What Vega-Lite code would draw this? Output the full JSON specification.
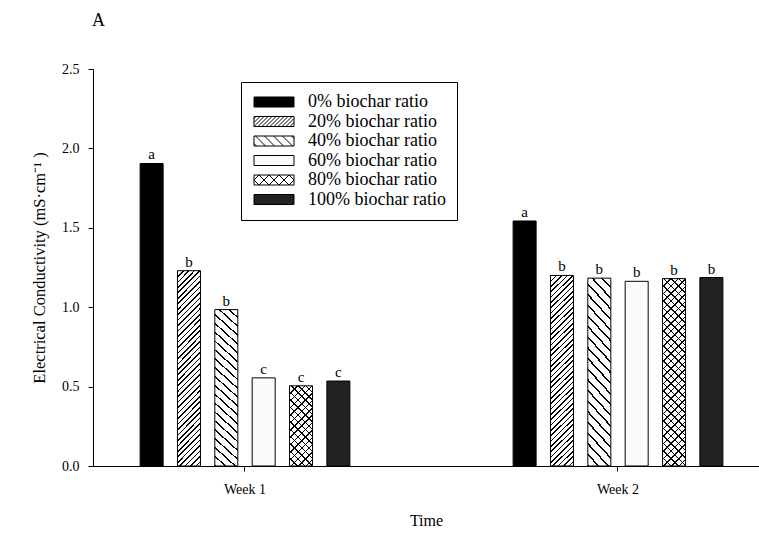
{
"$schema": "https://vega.github.io/schema/vega-lite/v6.json",
"width": 666, "height": 397,
"autosize": {"type": "none"},
"padding": {"left": 93, "top": 69, "right": 0, "bottom": 68},
"background": "white",
"title": {"text": "A", "anchor": "start", "frame": "group", "fontSize": 18, "fontWeight": "normal", "font": "Liberation Serif", "color": "#000", "offset": 32, "dx": -1},
"data": {"values": [
{"Time":"Week 1","ratio":"0% biochar ratio","EC":1.905,"letter":"a"},
{"Time":"Week 1","ratio":"20% biochar ratio","EC":1.23,"letter":"b"},
{"Time":"Week 1","ratio":"40% biochar ratio","EC":0.985,"letter":"b"},
{"Time":"Week 1","ratio":"60% biochar ratio","EC":0.555,"letter":"c"},
{"Time":"Week 1","ratio":"80% biochar ratio","EC":0.505,"letter":"c"},
{"Time":"Week 1","ratio":"100% biochar ratio","EC":0.535,"letter":"c"},
{"Time":"Week 2","ratio":"0% biochar ratio","EC":1.543,"letter":"a"},
{"Time":"Week 2","ratio":"20% biochar ratio","EC":1.2,"letter":"b"},
{"Time":"Week 2","ratio":"40% biochar ratio","EC":1.183,"letter":"b"},
{"Time":"Week 2","ratio":"60% biochar ratio","EC":1.163,"letter":"b"},
{"Time":"Week 2","ratio":"80% biochar ratio","EC":1.18,"letter":"b"},
{"Time":"Week 2","ratio":"100% biochar ratio","EC":1.187,"letter":"b"}
]},
"encoding": {
"x": {"field": "Time", "type": "nominal", "title": "Time",
 "scale": {"paddingInner": 0.25, "paddingOuter": 0.01776, "align": 0.915},
 "axis": {"labelAngle": 0, "tickSize": 5, "labelPadding": 11, "labelFontSize": 14, "titleFontSize": 16, "titlePadding": 16, "titleFontWeight": "normal", "grid": false, "domainColor": "#000", "tickColor": "#000", "labelColor": "#000", "titleColor": "#000"}},
"xOffset": {"field": "ratio", "type": "nominal",
 "scale": {"domain": ["0% biochar ratio","20% biochar ratio","40% biochar ratio","60% biochar ratio","80% biochar ratio","100% biochar ratio"], "paddingInner": 0.3842, "paddingOuter": 0.937}},
"y": {"field": "EC", "type": "quantitative", "title": "Electrical Conductivity (mS·cm⁻¹ )",
 "scale": {"domain": [0, 2.5], "nice": false},
 "axis": {"values": [0, 0.5, 1, 1.5, 2, 2.5], "format": ".1f", "grid": false, "tickSize": 5, "labelPadding": 9, "labelFontSize": 14, "titleFontSize": 16.5, "titlePadding": 14, "titleFontWeight": "normal", "domainColor": "#000", "tickColor": "#000", "labelColor": "#000", "titleColor": "#000"}}
},
"layer": [
{"mark": {"type": "bar", "stroke": "#000", "strokeWidth": 1},
 "encoding": {"fill": {"field": "ratio", "type": "nominal",
  "scale": {"domain": ["0% biochar ratio","20% biochar ratio","40% biochar ratio","60% biochar ratio","80% biochar ratio","100% biochar ratio"], "range": ["#000000","#ffffff","#ffffff","#fafafa","#ffffff","#222222"]},
  "legend": {"title": null, "orient": "none", "legendX": 148, "legendY": 13, "direction": "vertical", "strokeColor": "#000", "fillColor": "#fff", "padding": 11, "symbolType": "M-4,-1H4V1H-4Z", "symbolSize": 100, "symbolOffset": 13, "labelOffset": 25, "symbolStrokeColor": "#000", "symbolStrokeWidth": 1, "labelFont": "Liberation Serif", "labelFontSize": 18, "labelColor": "#000", "rowPadding": 1.5, "labelLimit": 300,
   "encode": {"symbols": {"update": {
    "shape": [
     {"test": "datum.value === '20% biochar ratio'", "value": "M-4,-1H4V1H-4Z M-4,-0.6L-3.6,-1 M-4,0.2L-2.8,-1 M-4,1L-2,-1 M-3.2,1L-1.2,-1 M-2.4,1L-0.4,-1 M-1.6,1L0.4,-1 M-0.8,1L1.2,-1 M0,1L2,-1 M0.8,1L2.8,-1 M1.6,1L3.6,-1 M2.4,1L4,-0.6 M3.2,1L4,0.2"},
     {"test": "datum.value === '40% biochar ratio'", "value": "M-4,-1H4V1H-4Z M-4,0.5L-3.5,1 M-3.7,-1L-1.7,1 M-1.9,-1L0.1,1 M-0.1,-1L1.9,1 M1.7,-1L3.7,1 M3.5,-1L4,-0.5"},
     {"test": "datum.value === '80% biochar ratio'", "value": "M-4,-1H4V1H-4Z M-4,0L-3,-1 M-3,1L-1,-1 M-1,1L1,-1 M1,1L3,-1 M3,1L4,0 M-4,0L-3,1 M-3,-1L-1,1 M-1,-1L1,1 M1,-1L3,1 M3,-1L4,0"},
     {"value": "M-4,-1H4V1H-4Z"}
    ],
    "stroke": {"value": "#000"},
    "strokeWidth": {"value": 1}
   }}}},
  "condition": [
   {"test": "datum.ratio === '20% biochar ratio'", "value": {"gradient":"linear","x1":0,"y1":0,"x2":0.1315,"y2":1.1035,"stops":[
{"offset":0,"color":"#000"},{"offset":0.0075,"color":"#000"},{"offset":0.0075,"color":"#fff"},{"offset":0.025,"color":"#fff"},
{"offset":0.025,"color":"#000"},{"offset":0.0325,"color":"#000"},{"offset":0.0325,"color":"#fff"},{"offset":0.05,"color":"#fff"},
{"offset":0.05,"color":"#000"},{"offset":0.0575,"color":"#000"},{"offset":0.0575,"color":"#fff"},{"offset":0.075,"color":"#fff"},
{"offset":0.075,"color":"#000"},{"offset":0.0825,"color":"#000"},{"offset":0.0825,"color":"#fff"},{"offset":0.1,"color":"#fff"},
{"offset":0.1,"color":"#000"},{"offset":0.1075,"color":"#000"},{"offset":0.1075,"color":"#fff"},{"offset":0.125,"color":"#fff"},
{"offset":0.125,"color":"#000"},{"offset":0.1325,"color":"#000"},{"offset":0.1325,"color":"#fff"},{"offset":0.15,"color":"#fff"},
{"offset":0.15,"color":"#000"},{"offset":0.1575,"color":"#000"},{"offset":0.1575,"color":"#fff"},{"offset":0.175,"color":"#fff"},
{"offset":0.175,"color":"#000"},{"offset":0.1825,"color":"#000"},{"offset":0.1825,"color":"#fff"},{"offset":0.2,"color":"#fff"},
{"offset":0.2,"color":"#000"},{"offset":0.2075,"color":"#000"},{"offset":0.2075,"color":"#fff"},{"offset":0.225,"color":"#fff"},
{"offset":0.225,"color":"#000"},{"offset":0.2325,"color":"#000"},{"offset":0.2325,"color":"#fff"},{"offset":0.25,"color":"#fff"},
{"offset":0.25,"color":"#000"},{"offset":0.2575,"color":"#000"},{"offset":0.2575,"color":"#fff"},{"offset":0.275,"color":"#fff"},
{"offset":0.275,"color":"#000"},{"offset":0.2825,"color":"#000"},{"offset":0.2825,"color":"#fff"},{"offset":0.3,"color":"#fff"},
{"offset":0.3,"color":"#000"},{"offset":0.3075,"color":"#000"},{"offset":0.3075,"color":"#fff"},{"offset":0.325,"color":"#fff"},
{"offset":0.325,"color":"#000"},{"offset":0.3325,"color":"#000"},{"offset":0.3325,"color":"#fff"},{"offset":0.35,"color":"#fff"},
{"offset":0.35,"color":"#000"},{"offset":0.3575,"color":"#000"},{"offset":0.3575,"color":"#fff"},{"offset":0.375,"color":"#fff"},
{"offset":0.375,"color":"#000"},{"offset":0.3825,"color":"#000"},{"offset":0.3825,"color":"#fff"},{"offset":0.4,"color":"#fff"},
{"offset":0.4,"color":"#000"},{"offset":0.4075,"color":"#000"},{"offset":0.4075,"color":"#fff"},{"offset":0.425,"color":"#fff"},
{"offset":0.425,"color":"#000"},{"offset":0.4325,"color":"#000"},{"offset":0.4325,"color":"#fff"},{"offset":0.45,"color":"#fff"},
{"offset":0.45,"color":"#000"},{"offset":0.4575,"color":"#000"},{"offset":0.4575,"color":"#fff"},{"offset":0.475,"color":"#fff"},
{"offset":0.475,"color":"#000"},{"offset":0.4825,"color":"#000"},{"offset":0.4825,"color":"#fff"},{"offset":0.5,"color":"#fff"},
{"offset":0.5,"color":"#000"},{"offset":0.5075,"color":"#000"},{"offset":0.5075,"color":"#fff"},{"offset":0.525,"color":"#fff"},
{"offset":0.525,"color":"#000"},{"offset":0.5325,"color":"#000"},{"offset":0.5325,"color":"#fff"},{"offset":0.55,"color":"#fff"},
{"offset":0.55,"color":"#000"},{"offset":0.5575,"color":"#000"},{"offset":0.5575,"color":"#fff"},{"offset":0.575,"color":"#fff"},
{"offset":0.575,"color":"#000"},{"offset":0.5825,"color":"#000"},{"offset":0.5825,"color":"#fff"},{"offset":0.6,"color":"#fff"},
{"offset":0.6,"color":"#000"},{"offset":0.6075,"color":"#000"},{"offset":0.6075,"color":"#fff"},{"offset":0.625,"color":"#fff"},
{"offset":0.625,"color":"#000"},{"offset":0.6325,"color":"#000"},{"offset":0.6325,"color":"#fff"},{"offset":0.65,"color":"#fff"},
{"offset":0.65,"color":"#000"},{"offset":0.6575,"color":"#000"},{"offset":0.6575,"color":"#fff"},{"offset":0.675,"color":"#fff"},
{"offset":0.675,"color":"#000"},{"offset":0.6825,"color":"#000"},{"offset":0.6825,"color":"#fff"},{"offset":0.7,"color":"#fff"},
{"offset":0.7,"color":"#000"},{"offset":0.7075,"color":"#000"},{"offset":0.7075,"color":"#fff"},{"offset":0.725,"color":"#fff"},
{"offset":0.725,"color":"#000"},{"offset":0.7325,"color":"#000"},{"offset":0.7325,"color":"#fff"},{"offset":0.75,"color":"#fff"},
{"offset":0.75,"color":"#000"},{"offset":0.7575,"color":"#000"},{"offset":0.7575,"color":"#fff"},{"offset":0.775,"color":"#fff"},
{"offset":0.775,"color":"#000"},{"offset":0.7825,"color":"#000"},{"offset":0.7825,"color":"#fff"},{"offset":0.8,"color":"#fff"},
{"offset":0.8,"color":"#000"},{"offset":0.8075,"color":"#000"},{"offset":0.8075,"color":"#fff"},{"offset":0.825,"color":"#fff"},
{"offset":0.825,"color":"#000"},{"offset":0.8325,"color":"#000"},{"offset":0.8325,"color":"#fff"},{"offset":0.85,"color":"#fff"},
{"offset":0.85,"color":"#000"},{"offset":0.8575,"color":"#000"},{"offset":0.8575,"color":"#fff"},{"offset":0.875,"color":"#fff"},
{"offset":0.875,"color":"#000"},{"offset":0.8825,"color":"#000"},{"offset":0.8825,"color":"#fff"},{"offset":0.9,"color":"#fff"},
{"offset":0.9,"color":"#000"},{"offset":0.9075,"color":"#000"},{"offset":0.9075,"color":"#fff"},{"offset":0.925,"color":"#fff"},
{"offset":0.925,"color":"#000"},{"offset":0.9325,"color":"#000"},{"offset":0.9325,"color":"#fff"},{"offset":0.95,"color":"#fff"},
{"offset":0.95,"color":"#000"},{"offset":0.9575,"color":"#000"},{"offset":0.9575,"color":"#fff"},{"offset":0.975,"color":"#fff"},
{"offset":0.975,"color":"#000"},{"offset":0.9825,"color":"#000"},{"offset":0.9825,"color":"#fff"},{"offset":1,"color":"#fff"}
]}},
   {"test": "datum.ratio === '40% biochar ratio'", "value": {"gradient":"linear","x1":0,"y1":1,"x2":0.149,"y2":-0.1139,"stops":[
{"offset":0,"color":"#000"},{"offset":0.01,"color":"#000"},{"offset":0.01,"color":"#fff"},{"offset":0.05,"color":"#fff"},
{"offset":0.05,"color":"#000"},{"offset":0.06,"color":"#000"},{"offset":0.06,"color":"#fff"},{"offset":0.1,"color":"#fff"},
{"offset":0.1,"color":"#000"},{"offset":0.11,"color":"#000"},{"offset":0.11,"color":"#fff"},{"offset":0.15,"color":"#fff"},
{"offset":0.15,"color":"#000"},{"offset":0.16,"color":"#000"},{"offset":0.16,"color":"#fff"},{"offset":0.2,"color":"#fff"},
{"offset":0.2,"color":"#000"},{"offset":0.21,"color":"#000"},{"offset":0.21,"color":"#fff"},{"offset":0.25,"color":"#fff"},
{"offset":0.25,"color":"#000"},{"offset":0.26,"color":"#000"},{"offset":0.26,"color":"#fff"},{"offset":0.3,"color":"#fff"},
{"offset":0.3,"color":"#000"},{"offset":0.31,"color":"#000"},{"offset":0.31,"color":"#fff"},{"offset":0.35,"color":"#fff"},
{"offset":0.35,"color":"#000"},{"offset":0.36,"color":"#000"},{"offset":0.36,"color":"#fff"},{"offset":0.4,"color":"#fff"},
{"offset":0.4,"color":"#000"},{"offset":0.41,"color":"#000"},{"offset":0.41,"color":"#fff"},{"offset":0.45,"color":"#fff"},
{"offset":0.45,"color":"#000"},{"offset":0.46,"color":"#000"},{"offset":0.46,"color":"#fff"},{"offset":0.5,"color":"#fff"},
{"offset":0.5,"color":"#000"},{"offset":0.51,"color":"#000"},{"offset":0.51,"color":"#fff"},{"offset":0.55,"color":"#fff"},
{"offset":0.55,"color":"#000"},{"offset":0.56,"color":"#000"},{"offset":0.56,"color":"#fff"},{"offset":0.6,"color":"#fff"},
{"offset":0.6,"color":"#000"},{"offset":0.61,"color":"#000"},{"offset":0.61,"color":"#fff"},{"offset":0.65,"color":"#fff"},
{"offset":0.65,"color":"#000"},{"offset":0.66,"color":"#000"},{"offset":0.66,"color":"#fff"},{"offset":0.7,"color":"#fff"},
{"offset":0.7,"color":"#000"},{"offset":0.71,"color":"#000"},{"offset":0.71,"color":"#fff"},{"offset":0.75,"color":"#fff"},
{"offset":0.75,"color":"#000"},{"offset":0.76,"color":"#000"},{"offset":0.76,"color":"#fff"},{"offset":0.8,"color":"#fff"},
{"offset":0.8,"color":"#000"},{"offset":0.81,"color":"#000"},{"offset":0.81,"color":"#fff"},{"offset":0.85,"color":"#fff"},
{"offset":0.85,"color":"#000"},{"offset":0.86,"color":"#000"},{"offset":0.86,"color":"#fff"},{"offset":0.9,"color":"#fff"},
{"offset":0.9,"color":"#000"},{"offset":0.91,"color":"#000"},{"offset":0.91,"color":"#fff"},{"offset":0.95,"color":"#fff"},
{"offset":0.95,"color":"#000"},{"offset":0.96,"color":"#000"},{"offset":0.96,"color":"#fff"},{"offset":1,"color":"#fff"}
]}},
   {"test": "datum.ratio === '80% biochar ratio' && datum.Time === 'Week 1'", "value": {"gradient":"linear","x1":0,"y1":0,"x2":0.341,"y2":1.189,"stops":[
{"offset":0,"color":"#000"},{"offset":0.01429,"color":"#000"},{"offset":0.01429,"color":"#fff"},{"offset":0.07143,"color":"#fff"},
{"offset":0.07143,"color":"#000"},{"offset":0.08572,"color":"#000"},{"offset":0.08572,"color":"#fff"},{"offset":0.14286,"color":"#fff"},
{"offset":0.14286,"color":"#000"},{"offset":0.15715,"color":"#000"},{"offset":0.15715,"color":"#fff"},{"offset":0.21429,"color":"#fff"},
{"offset":0.21429,"color":"#000"},{"offset":0.22858,"color":"#000"},{"offset":0.22858,"color":"#fff"},{"offset":0.28571,"color":"#fff"},
{"offset":0.28571,"color":"#000"},{"offset":0.3,"color":"#000"},{"offset":0.3,"color":"#fff"},{"offset":0.35714,"color":"#fff"},
{"offset":0.35714,"color":"#000"},{"offset":0.37143,"color":"#000"},{"offset":0.37143,"color":"#fff"},{"offset":0.42857,"color":"#fff"},
{"offset":0.42857,"color":"#000"},{"offset":0.44286,"color":"#000"},{"offset":0.44286,"color":"#fff"},{"offset":0.5,"color":"#fff"},
{"offset":0.5,"color":"#000"},{"offset":0.51429,"color":"#000"},{"offset":0.51429,"color":"#fff"},{"offset":0.57143,"color":"#fff"},
{"offset":0.57143,"color":"#000"},{"offset":0.58572,"color":"#000"},{"offset":0.58572,"color":"#fff"},{"offset":0.64286,"color":"#fff"},
{"offset":0.64286,"color":"#000"},{"offset":0.65715,"color":"#000"},{"offset":0.65715,"color":"#fff"},{"offset":0.71429,"color":"#fff"},
{"offset":0.71429,"color":"#000"},{"offset":0.72858,"color":"#000"},{"offset":0.72858,"color":"#fff"},{"offset":0.78571,"color":"#fff"},
{"offset":0.78571,"color":"#000"},{"offset":0.8,"color":"#000"},{"offset":0.8,"color":"#fff"},{"offset":0.85714,"color":"#fff"},
{"offset":0.85714,"color":"#000"},{"offset":0.87143,"color":"#000"},{"offset":0.87143,"color":"#fff"},{"offset":0.92857,"color":"#fff"},
{"offset":0.92857,"color":"#000"},{"offset":0.94286,"color":"#000"},{"offset":0.94286,"color":"#fff"},{"offset":1,"color":"#fff"}
]}},
   {"test": "datum.ratio === '80% biochar ratio'", "value": {"gradient":"linear","x1":0,"y1":0,"x2":0.1358,"y2":1.1061,"stops":[
{"offset":0,"color":"#000"},{"offset":0.00714,"color":"#000"},{"offset":0.00714,"color":"#fff"},{"offset":0.03571,"color":"#fff"},
{"offset":0.03571,"color":"#000"},{"offset":0.04285,"color":"#000"},{"offset":0.04285,"color":"#fff"},{"offset":0.07143,"color":"#fff"},
{"offset":0.07143,"color":"#000"},{"offset":0.07857,"color":"#000"},{"offset":0.07857,"color":"#fff"},{"offset":0.10714,"color":"#fff"},
{"offset":0.10714,"color":"#000"},{"offset":0.11428,"color":"#000"},{"offset":0.11428,"color":"#fff"},{"offset":0.14286,"color":"#fff"},
{"offset":0.14286,"color":"#000"},{"offset":0.15,"color":"#000"},{"offset":0.15,"color":"#fff"},{"offset":0.17857,"color":"#fff"},
{"offset":0.17857,"color":"#000"},{"offset":0.18571,"color":"#000"},{"offset":0.18571,"color":"#fff"},{"offset":0.21429,"color":"#fff"},
{"offset":0.21429,"color":"#000"},{"offset":0.22143,"color":"#000"},{"offset":0.22143,"color":"#fff"},{"offset":0.25,"color":"#fff"},
{"offset":0.25,"color":"#000"},{"offset":0.25714,"color":"#000"},{"offset":0.25714,"color":"#fff"},{"offset":0.28571,"color":"#fff"},
{"offset":0.28571,"color":"#000"},{"offset":0.29285,"color":"#000"},{"offset":0.29285,"color":"#fff"},{"offset":0.32143,"color":"#fff"},
{"offset":0.32143,"color":"#000"},{"offset":0.32857,"color":"#000"},{"offset":0.32857,"color":"#fff"},{"offset":0.35714,"color":"#fff"},
{"offset":0.35714,"color":"#000"},{"offset":0.36428,"color":"#000"},{"offset":0.36428,"color":"#fff"},{"offset":0.39286,"color":"#fff"},
{"offset":0.39286,"color":"#000"},{"offset":0.4,"color":"#000"},{"offset":0.4,"color":"#fff"},{"offset":0.42857,"color":"#fff"},
{"offset":0.42857,"color":"#000"},{"offset":0.43571,"color":"#000"},{"offset":0.43571,"color":"#fff"},{"offset":0.46429,"color":"#fff"},
{"offset":0.46429,"color":"#000"},{"offset":0.47143,"color":"#000"},{"offset":0.47143,"color":"#fff"},{"offset":0.5,"color":"#fff"},
{"offset":0.5,"color":"#000"},{"offset":0.50714,"color":"#000"},{"offset":0.50714,"color":"#fff"},{"offset":0.53571,"color":"#fff"},
{"offset":0.53571,"color":"#000"},{"offset":0.54285,"color":"#000"},{"offset":0.54285,"color":"#fff"},{"offset":0.57143,"color":"#fff"},
{"offset":0.57143,"color":"#000"},{"offset":0.57857,"color":"#000"},{"offset":0.57857,"color":"#fff"},{"offset":0.60714,"color":"#fff"},
{"offset":0.60714,"color":"#000"},{"offset":0.61428,"color":"#000"},{"offset":0.61428,"color":"#fff"},{"offset":0.64286,"color":"#fff"},
{"offset":0.64286,"color":"#000"},{"offset":0.65,"color":"#000"},{"offset":0.65,"color":"#fff"},{"offset":0.67857,"color":"#fff"},
{"offset":0.67857,"color":"#000"},{"offset":0.68571,"color":"#000"},{"offset":0.68571,"color":"#fff"},{"offset":0.71429,"color":"#fff"},
{"offset":0.71429,"color":"#000"},{"offset":0.72143,"color":"#000"},{"offset":0.72143,"color":"#fff"},{"offset":0.75,"color":"#fff"},
{"offset":0.75,"color":"#000"},{"offset":0.75714,"color":"#000"},{"offset":0.75714,"color":"#fff"},{"offset":0.78571,"color":"#fff"},
{"offset":0.78571,"color":"#000"},{"offset":0.79285,"color":"#000"},{"offset":0.79285,"color":"#fff"},{"offset":0.82143,"color":"#fff"},
{"offset":0.82143,"color":"#000"},{"offset":0.82857,"color":"#000"},{"offset":0.82857,"color":"#fff"},{"offset":0.85714,"color":"#fff"},
{"offset":0.85714,"color":"#000"},{"offset":0.86428,"color":"#000"},{"offset":0.86428,"color":"#fff"},{"offset":0.89286,"color":"#fff"},
{"offset":0.89286,"color":"#000"},{"offset":0.9,"color":"#000"},{"offset":0.9,"color":"#fff"},{"offset":0.92857,"color":"#fff"},
{"offset":0.92857,"color":"#000"},{"offset":0.93571,"color":"#000"},{"offset":0.93571,"color":"#fff"},{"offset":0.96429,"color":"#fff"},
{"offset":0.96429,"color":"#000"},{"offset":0.97143,"color":"#000"},{"offset":0.97143,"color":"#fff"},{"offset":1,"color":"#fff"}
]}}
  ]}}},
{"transform": [{"filter": "datum.ratio === '80% biochar ratio'"}],
 "mark": {"type": "bar", "strokeWidth": 0},
 "encoding": {"fill": {
  "condition": {"test": "datum.Time === 'Week 1'", "value": {"gradient":"linear","x1":0,"y1":1,"x2":0.341,"y2":-0.189,"stops":[
{"offset":0,"color":"#000"},{"offset":0.01429,"color":"#000"},{"offset":0.01429,"color":"rgba(0,0,0,0)"},{"offset":0.07143,"color":"rgba(0,0,0,0)"},
{"offset":0.07143,"color":"#000"},{"offset":0.08572,"color":"#000"},{"offset":0.08572,"color":"rgba(0,0,0,0)"},{"offset":0.14286,"color":"rgba(0,0,0,0)"},
{"offset":0.14286,"color":"#000"},{"offset":0.15715,"color":"#000"},{"offset":0.15715,"color":"rgba(0,0,0,0)"},{"offset":0.21429,"color":"rgba(0,0,0,0)"},
{"offset":0.21429,"color":"#000"},{"offset":0.22858,"color":"#000"},{"offset":0.22858,"color":"rgba(0,0,0,0)"},{"offset":0.28571,"color":"rgba(0,0,0,0)"},
{"offset":0.28571,"color":"#000"},{"offset":0.3,"color":"#000"},{"offset":0.3,"color":"rgba(0,0,0,0)"},{"offset":0.35714,"color":"rgba(0,0,0,0)"},
{"offset":0.35714,"color":"#000"},{"offset":0.37143,"color":"#000"},{"offset":0.37143,"color":"rgba(0,0,0,0)"},{"offset":0.42857,"color":"rgba(0,0,0,0)"},
{"offset":0.42857,"color":"#000"},{"offset":0.44286,"color":"#000"},{"offset":0.44286,"color":"rgba(0,0,0,0)"},{"offset":0.5,"color":"rgba(0,0,0,0)"},
{"offset":0.5,"color":"#000"},{"offset":0.51429,"color":"#000"},{"offset":0.51429,"color":"rgba(0,0,0,0)"},{"offset":0.57143,"color":"rgba(0,0,0,0)"},
{"offset":0.57143,"color":"#000"},{"offset":0.58572,"color":"#000"},{"offset":0.58572,"color":"rgba(0,0,0,0)"},{"offset":0.64286,"color":"rgba(0,0,0,0)"},
{"offset":0.64286,"color":"#000"},{"offset":0.65715,"color":"#000"},{"offset":0.65715,"color":"rgba(0,0,0,0)"},{"offset":0.71429,"color":"rgba(0,0,0,0)"},
{"offset":0.71429,"color":"#000"},{"offset":0.72858,"color":"#000"},{"offset":0.72858,"color":"rgba(0,0,0,0)"},{"offset":0.78571,"color":"rgba(0,0,0,0)"},
{"offset":0.78571,"color":"#000"},{"offset":0.8,"color":"#000"},{"offset":0.8,"color":"rgba(0,0,0,0)"},{"offset":0.85714,"color":"rgba(0,0,0,0)"},
{"offset":0.85714,"color":"#000"},{"offset":0.87143,"color":"#000"},{"offset":0.87143,"color":"rgba(0,0,0,0)"},{"offset":0.92857,"color":"rgba(0,0,0,0)"},
{"offset":0.92857,"color":"#000"},{"offset":0.94286,"color":"#000"},{"offset":0.94286,"color":"rgba(0,0,0,0)"},{"offset":1,"color":"rgba(0,0,0,0)"}
]}},
  "value": {"gradient":"linear","x1":0,"y1":1,"x2":0.1358,"y2":-0.1061,"stops":[
{"offset":0,"color":"#000"},{"offset":0.00714,"color":"#000"},{"offset":0.00714,"color":"rgba(0,0,0,0)"},{"offset":0.03571,"color":"rgba(0,0,0,0)"},
{"offset":0.03571,"color":"#000"},{"offset":0.04285,"color":"#000"},{"offset":0.04285,"color":"rgba(0,0,0,0)"},{"offset":0.07143,"color":"rgba(0,0,0,0)"},
{"offset":0.07143,"color":"#000"},{"offset":0.07857,"color":"#000"},{"offset":0.07857,"color":"rgba(0,0,0,0)"},{"offset":0.10714,"color":"rgba(0,0,0,0)"},
{"offset":0.10714,"color":"#000"},{"offset":0.11428,"color":"#000"},{"offset":0.11428,"color":"rgba(0,0,0,0)"},{"offset":0.14286,"color":"rgba(0,0,0,0)"},
{"offset":0.14286,"color":"#000"},{"offset":0.15,"color":"#000"},{"offset":0.15,"color":"rgba(0,0,0,0)"},{"offset":0.17857,"color":"rgba(0,0,0,0)"},
{"offset":0.17857,"color":"#000"},{"offset":0.18571,"color":"#000"},{"offset":0.18571,"color":"rgba(0,0,0,0)"},{"offset":0.21429,"color":"rgba(0,0,0,0)"},
{"offset":0.21429,"color":"#000"},{"offset":0.22143,"color":"#000"},{"offset":0.22143,"color":"rgba(0,0,0,0)"},{"offset":0.25,"color":"rgba(0,0,0,0)"},
{"offset":0.25,"color":"#000"},{"offset":0.25714,"color":"#000"},{"offset":0.25714,"color":"rgba(0,0,0,0)"},{"offset":0.28571,"color":"rgba(0,0,0,0)"},
{"offset":0.28571,"color":"#000"},{"offset":0.29285,"color":"#000"},{"offset":0.29285,"color":"rgba(0,0,0,0)"},{"offset":0.32143,"color":"rgba(0,0,0,0)"},
{"offset":0.32143,"color":"#000"},{"offset":0.32857,"color":"#000"},{"offset":0.32857,"color":"rgba(0,0,0,0)"},{"offset":0.35714,"color":"rgba(0,0,0,0)"},
{"offset":0.35714,"color":"#000"},{"offset":0.36428,"color":"#000"},{"offset":0.36428,"color":"rgba(0,0,0,0)"},{"offset":0.39286,"color":"rgba(0,0,0,0)"},
{"offset":0.39286,"color":"#000"},{"offset":0.4,"color":"#000"},{"offset":0.4,"color":"rgba(0,0,0,0)"},{"offset":0.42857,"color":"rgba(0,0,0,0)"},
{"offset":0.42857,"color":"#000"},{"offset":0.43571,"color":"#000"},{"offset":0.43571,"color":"rgba(0,0,0,0)"},{"offset":0.46429,"color":"rgba(0,0,0,0)"},
{"offset":0.46429,"color":"#000"},{"offset":0.47143,"color":"#000"},{"offset":0.47143,"color":"rgba(0,0,0,0)"},{"offset":0.5,"color":"rgba(0,0,0,0)"},
{"offset":0.5,"color":"#000"},{"offset":0.50714,"color":"#000"},{"offset":0.50714,"color":"rgba(0,0,0,0)"},{"offset":0.53571,"color":"rgba(0,0,0,0)"},
{"offset":0.53571,"color":"#000"},{"offset":0.54285,"color":"#000"},{"offset":0.54285,"color":"rgba(0,0,0,0)"},{"offset":0.57143,"color":"rgba(0,0,0,0)"},
{"offset":0.57143,"color":"#000"},{"offset":0.57857,"color":"#000"},{"offset":0.57857,"color":"rgba(0,0,0,0)"},{"offset":0.60714,"color":"rgba(0,0,0,0)"},
{"offset":0.60714,"color":"#000"},{"offset":0.61428,"color":"#000"},{"offset":0.61428,"color":"rgba(0,0,0,0)"},{"offset":0.64286,"color":"rgba(0,0,0,0)"},
{"offset":0.64286,"color":"#000"},{"offset":0.65,"color":"#000"},{"offset":0.65,"color":"rgba(0,0,0,0)"},{"offset":0.67857,"color":"rgba(0,0,0,0)"},
{"offset":0.67857,"color":"#000"},{"offset":0.68571,"color":"#000"},{"offset":0.68571,"color":"rgba(0,0,0,0)"},{"offset":0.71429,"color":"rgba(0,0,0,0)"},
{"offset":0.71429,"color":"#000"},{"offset":0.72143,"color":"#000"},{"offset":0.72143,"color":"rgba(0,0,0,0)"},{"offset":0.75,"color":"rgba(0,0,0,0)"},
{"offset":0.75,"color":"#000"},{"offset":0.75714,"color":"#000"},{"offset":0.75714,"color":"rgba(0,0,0,0)"},{"offset":0.78571,"color":"rgba(0,0,0,0)"},
{"offset":0.78571,"color":"#000"},{"offset":0.79285,"color":"#000"},{"offset":0.79285,"color":"rgba(0,0,0,0)"},{"offset":0.82143,"color":"rgba(0,0,0,0)"},
{"offset":0.82143,"color":"#000"},{"offset":0.82857,"color":"#000"},{"offset":0.82857,"color":"rgba(0,0,0,0)"},{"offset":0.85714,"color":"rgba(0,0,0,0)"},
{"offset":0.85714,"color":"#000"},{"offset":0.86428,"color":"#000"},{"offset":0.86428,"color":"rgba(0,0,0,0)"},{"offset":0.89286,"color":"rgba(0,0,0,0)"},
{"offset":0.89286,"color":"#000"},{"offset":0.9,"color":"#000"},{"offset":0.9,"color":"rgba(0,0,0,0)"},{"offset":0.92857,"color":"rgba(0,0,0,0)"},
{"offset":0.92857,"color":"#000"},{"offset":0.93571,"color":"#000"},{"offset":0.93571,"color":"rgba(0,0,0,0)"},{"offset":0.96429,"color":"rgba(0,0,0,0)"},
{"offset":0.96429,"color":"#000"},{"offset":0.97143,"color":"#000"},{"offset":0.97143,"color":"rgba(0,0,0,0)"},{"offset":1,"color":"rgba(0,0,0,0)"}
]}}}},
{"mark": {"type": "text", "dy": -4, "baseline": "alphabetic", "align": "center", "fontSize": 15, "font": "Liberation Serif", "color": "#000"},
 "encoding": {"text": {"field": "letter"}}}
],
"config": {
 "view": {"stroke": null},
 "axis": {"labelFont": "Liberation Serif", "titleFont": "Liberation Serif"},
 "legend": {"labelFont": "Liberation Serif"}
}
}
